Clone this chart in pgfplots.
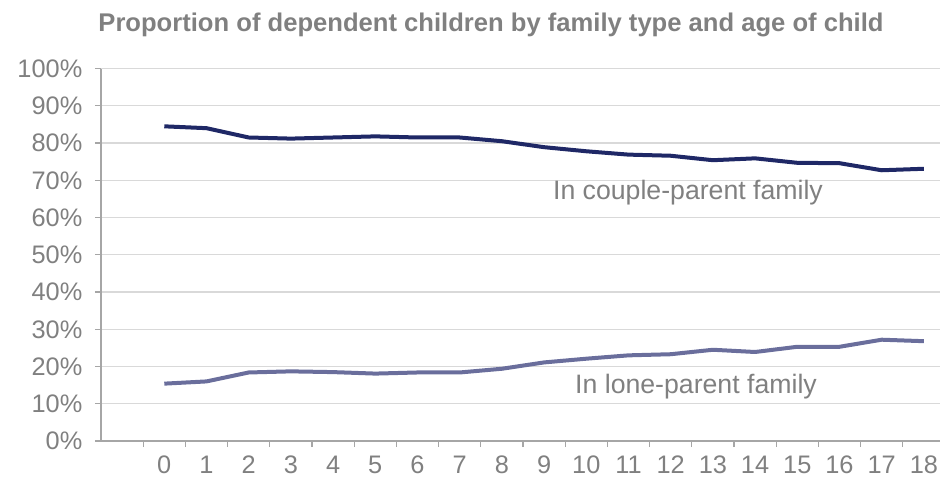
\documentclass[border=0pt]{standalone}
\usepackage{pgfplots}
\pgfplotsset{compat=1.18}
\usepackage{fontspec}
\setmainfont{Liberation Sans}
\definecolor{txtgray}{RGB}{128,128,128}
\definecolor{axgray}{RGB}{166,166,166}
\definecolor{gridgray}{RGB}{217,217,217}
\definecolor{couple}{RGB}{31,40,102}
\definecolor{lone}{RGB}{106,110,156}

\begin{document}
\begin{tikzpicture}[x=0.75pt,y=0.75pt]
\useasboundingbox (0,0) rectangle (940,483);
\clip (0,0) rectangle (940,483);
\begin{axis}[
  at={(75.75pt,31.5pt)}, anchor=south west,
  scale only axis, width=633pt, height=279.3pt,
  xmin=-1.5, xmax=18.5, ymin=0, ymax=100,
  axis x line*=bottom, axis y line*=left,
  axis line style={axgray, line width=0.9pt},
  tick align=outside, major tick length=4.5pt,
  tick style={axgray, line width=0.9pt},
  ymajorgrids, grid style={gridgray, line width=0.9pt},
  ytick={0,10,...,100},
  yticklabels={0\%,10\%,20\%,30\%,40\%,50\%,60\%,70\%,80\%,90\%,100\%},
  xtick={-0.5,0.5,...,17.5},
  xticklabels={0,1,2,3,4,5,6,7,8,9,10,11,12,13,14,15,16,17,18},
  xticklabel style={xshift=15.8pt, yshift=-3pt},
  yticklabel style={xshift=-6pt},
  ticklabel style={font=\fontsize{19}{22}\selectfont, text=txtgray},
  clip=false,
]
% children living with two parents
\addplot[couple, line width=3pt, line join=round] coordinates {
  (0,84.5) (1,84.0) (2,81.5) (3,81.2) (4,81.5) (5,81.8) (6,81.5) (7,81.5)
  (8,80.5) (9,78.9) (10,77.8) (11,76.9) (12,76.6) (13,75.4) (14,75.9)
  (15,74.7) (16,74.6) (17,72.7) (18,73.1)
};
% children living with one parent
\addplot[lone, line width=3pt, line join=round] coordinates {
  (0,15.4) (1,16.0) (2,18.4) (3,18.7) (4,18.5) (5,18.1) (6,18.4) (7,18.4)
  (8,19.4) (9,21.1) (10,22.1) (11,23.0) (12,23.3) (13,24.5) (14,23.9)
  (15,25.3) (16,25.3) (17,27.2) (18,26.8)
};
\node[text=txtgray, font=\fontsize{20}{23}\selectfont] at (axis cs:12.41,66.6) {In couple-parent family};
\node[text=txtgray, font=\fontsize{20}{23}\selectfont] at (axis cs:12.6,14.5) {In lone-parent family};
\end{axis}
\node[text=txtgray, font=\fontsize{19.2}{22}\selectfont\bfseries] at (491,458) {Proportion of dependent children by family type and age of child};
\end{tikzpicture}
\end{document}
